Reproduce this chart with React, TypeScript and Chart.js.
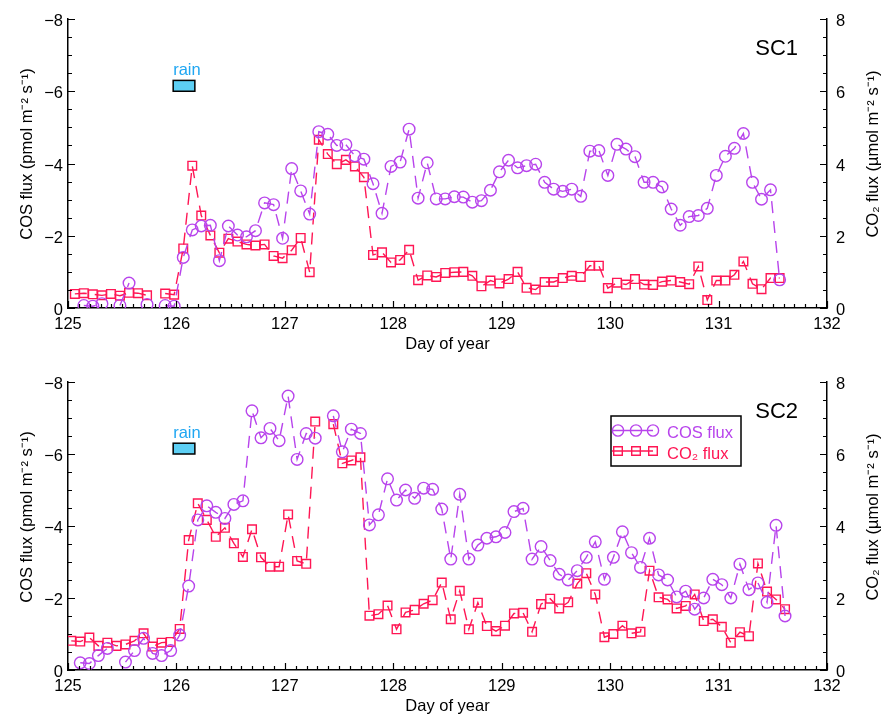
import React, { useEffect, useRef } from 'react';
import { Chart, registerables } from 'chart.js';

Chart.register(...registerables);

const FONT = '"Liberation Sans", Arial, Helvetica, sans-serif';
const COS_COLOR = '#B844EC';
const CO2_COLOR = '#FF1654';
const RAIN_FILL = '#5DCFF4';
const RAIN_TEXT = '#1FA6F2';

// ---------- data ----------
const TIME_SC1 = [
  125.063, 125.146, 125.229, 125.313, 125.396, 125.479, 125.563, 125.646, 125.729, 125.813, 125.896, 125.979,
  126.063, 126.146, 126.229, 126.313, 126.396, 126.479, 126.563, 126.646, 126.729, 126.813, 126.896, 126.979,
  127.063, 127.146, 127.229, 127.313, 127.396, 127.479, 127.563, 127.646, 127.729, 127.813, 127.896, 127.979,
  128.063, 128.146, 128.229, 128.313, 128.396, 128.479, 128.563, 128.646, 128.729, 128.813, 128.896, 128.979,
  129.063, 129.146, 129.229, 129.313, 129.396, 129.479, 129.563, 129.646, 129.729, 129.813, 129.896, 129.979,
  130.063, 130.146, 130.229, 130.313, 130.396, 130.479, 130.563, 130.646, 130.729, 130.813, 130.896, 130.979,
  131.063, 131.146, 131.229, 131.313, 131.396, 131.479, 131.563,
];
const CO2_SC1 = [
  0.39, 0.41, 0.38, 0.35, 0.39, 0.34, 0.42, 0.41, 0.35, null, 0.40, 0.37,
  1.65, 3.94, 2.56, 2.01, 1.53, 1.92, 1.84, 1.76, 1.73, 1.76, 1.44, 1.38,
  1.60, 1.94, 0.99, 4.66, 4.26, 3.98, 4.10, 3.92, 3.62, 1.47, 1.54, 1.26,
  1.33, 1.61, 0.77, 0.90, 0.86, 0.97, 0.99, 1.00, 0.89, 0.60, 0.76, 0.68,
  0.80, 1.00, 0.56, 0.51, 0.72, 0.72, 0.83, 0.89, 0.86, 1.17, 1.17, 0.55,
  0.70, 0.65, 0.80, 0.65, 0.64, 0.73, 0.76, 0.72, 0.66, 1.15, 0.22, 0.76,
  0.76, 0.92, 1.29, 0.67, 0.52, 0.83, 0.83,
];
const COS_SC1 = [
  null, -0.07, -0.05, -0.12, null, -0.07, -0.69, null, -0.10, null, -0.07, -0.05,
  -1.40, -2.16, -2.27, -2.29, -1.31, -2.27, -2.02, -1.97, -2.14, -2.91, -2.86, -1.93,
  -3.86, -3.24, -2.60, -4.88, -4.81, -4.50, -4.52, -4.21, -4.12, -3.44, -2.62, -3.92,
  -4.04, -4.95, -3.04, -4.02, -3.02, -3.02, -3.08, -3.07, -2.93, -2.97, -3.26, -3.77,
  -4.09, -3.88, -3.94, -3.98, -3.48, -3.29, -3.23, -3.29, -3.09, -4.34, -4.36, -3.67,
  -4.53, -4.40, -4.19, -3.48, -3.48, -3.35, -2.74, -2.29, -2.53, -2.56, -2.76, -3.67,
  -4.20, -4.42, -4.83, -3.48, -3.01, -3.27, -0.78,
];

const TIME_SC2 = [
  125.030, 125.113, 125.197, 125.280, 125.363, 125.447, 125.530, 125.613, 125.697, 125.780, 125.863, 125.947,
  126.030, 126.113, 126.197, 126.280, 126.363, 126.447, 126.530, 126.613, 126.697, 126.780, 126.863, 126.947,
  127.030, 127.113, 127.197, 127.280, 127.363, 127.447, 127.530, 127.613, 127.697, 127.780, 127.863, 127.947,
  128.030, 128.113, 128.197, 128.280, 128.363, 128.447, 128.530, 128.613, 128.697, 128.780, 128.863, 128.947,
  129.030, 129.113, 129.197, 129.280, 129.363, 129.447, 129.530, 129.613, 129.697, 129.780, 129.863, 129.947,
  130.030, 130.113, 130.197, 130.280, 130.363, 130.447, 130.530, 130.613, 130.697, 130.780, 130.863, 130.947,
  131.030, 131.113, 131.197, 131.280, 131.363, 131.447, 131.530, 131.613,
];
const CO2_SC2 = [
  0.81, 0.79, 0.90, 0.67, 0.76, 0.67, 0.71, 0.81, 1.02, 0.65, 0.76, 0.78,
  1.14, 3.61, 4.63, 4.17, 3.70, 3.95, 3.52, 3.14, 3.91, 3.13, 2.87, 2.87,
  4.32, 3.03, 2.95, 6.90, null, 6.83, 5.74, 5.82, 5.91, 1.51, 1.55, 1.79,
  1.13, 1.60, 1.67, 1.84, 1.94, 2.43, 1.41, 2.20, 1.13, 1.87, 1.22, 1.08,
  1.23, 1.57, 1.59, 1.06, 1.83, 1.98, 1.71, 1.88, 2.40, 2.69, 2.10, 0.91,
  1.00, 1.23, 1.02, 1.06, 2.76, 2.02, 1.96, 1.71, 1.78, 2.10, 1.36, 1.41,
  1.20, 0.76, 1.05, 0.94, 2.96, 2.18, 1.96, 1.69,
];
const COS_SC2 = [
  null, -0.20, -0.18, -0.40, -0.60, null, -0.22, -0.54, -0.88, -0.46, -0.40, -0.54,
  -0.97, -2.33, -4.17, -4.56, -4.38, -4.21, -4.60, -4.70, -7.20, -6.45, -6.71, -6.37,
  -7.61, -5.85, -6.57, -6.44, null, -7.06, -6.06, -6.69, -6.57, -4.03, -4.31, -5.31,
  -4.72, -5.00, -4.77, -5.05, -5.02, -4.47, -3.08, -4.88, -3.08, -3.47, -3.66, -3.70,
  -3.82, -4.40, -4.49, -3.08, -3.43, -3.04, -2.66, -2.50, -2.76, -3.13, -3.56, -2.52,
  -3.13, -3.84, -3.26, -2.85, -3.66, -2.64, -2.50, -2.03, -2.19, -1.69, -2.00, -2.52,
  -2.37, -2.00, -2.94, -2.23, -2.42, -1.88, -4.02, -1.50,
];

const X_MIN = 125;
const X_MAX = 132;
const COS_MIN = -8;
const COS_MAX = 0;
const CO2_MIN = 0;
const CO2_MAX = 8;
const RAIN_START = 125.97;
const RAIN_END = 126.17;
const RAIN_COS_TOP = -6.3;
const RAIN_COS_BOTTOM = -6.0;

const X_TITLE = 'Day of year';
const COS_TITLE = 'COS flux (pmol m⁻² s⁻¹)';
const CO2_TITLE = 'CO₂ flux (µmol m⁻² s⁻¹)';
const COS_LABEL = 'COS flux';
const CO2_LABEL = 'CO₂ flux';

// ---------- layout ----------
const W = 881;
const PLOT_LEFT = 68;
const PLOT_RIGHT = 827;
const X_AXIS_H = 49;

type PanelProps = {
  name: string;
  times: number[];
  cos: (number | null)[];
  co2: (number | null)[];
  canvasH: number;
  plotTop: number;
  legend: boolean;
};

function makeDecorPlugin(name: string, legend: boolean) {
  return {
    id: 'decor_' + name,
    afterDatasetsDraw(chart: any) {
      const { ctx, chartArea: a, scales } = chart;
      const x = scales.x;
      const y = scales.y;
      const y2 = scales.y2;
      ctx.save();
      // inward ticks
      ctx.strokeStyle = '#000';
      ctx.lineWidth = 1.2;
      ctx.beginPath();
      for (let i = 0; i <= (X_MAX - X_MIN) * 10; i++) {
        const v = X_MIN + i / 10;
        const px = Math.round(x.getPixelForValue(v)) + 0.5;
        const len = i % 10 === 0 ? 7 : 4;
        ctx.moveTo(px, a.bottom);
        ctx.lineTo(px, a.bottom - len);
      }
      for (let i = 0; i <= 16; i++) {
        const v = COS_MIN + i * 0.5;
        const py = Math.round(y.getPixelForValue(v)) + 0.5;
        const len = i % 4 === 0 ? 7 : 4;
        ctx.moveTo(a.left, py);
        ctx.lineTo(a.left + len, py);
      }
      for (let i = 0; i <= 16; i++) {
        const v = CO2_MIN + i * 0.5;
        const py = Math.round(y2.getPixelForValue(v)) + 0.5;
        const len = i % 4 === 0 ? 7 : 4;
        ctx.moveTo(a.right, py);
        ctx.lineTo(a.right - len, py);
      }
      ctx.stroke();

      // rain box
      const rx0 = x.getPixelForValue(RAIN_START);
      const rx1 = x.getPixelForValue(RAIN_END);
      const ry0 = y.getPixelForValue(RAIN_COS_TOP);
      const ry1 = y.getPixelForValue(RAIN_COS_BOTTOM);
      ctx.fillStyle = RAIN_FILL;
      ctx.fillRect(rx0, ry0, rx1 - rx0, ry1 - ry0);
      ctx.lineWidth = 1.5;
      ctx.strokeStyle = '#000';
      ctx.strokeRect(rx0, ry0, rx1 - rx0, ry1 - ry0);
      ctx.fillStyle = RAIN_TEXT;
      ctx.font = `16.5px ${FONT}`;
      ctx.textAlign = 'left';
      ctx.textBaseline = 'alphabetic';
      ctx.fillText('rain', rx0, ry0 - 5.5);

      // panel name
      ctx.fillStyle = '#000';
      ctx.font = `22px ${FONT}`;
      ctx.textAlign = 'right';
      ctx.fillText(name, a.right - 29, a.top + 36);

      // axis titles (both read bottom-to-top)
      const midY = a.top + 135;
      ctx.font = `16.5px ${FONT}`;
      ctx.textAlign = 'center';
      ctx.textBaseline = 'middle';
      ctx.save();
      ctx.translate(27, midY);
      ctx.rotate(-Math.PI / 2);
      ctx.fillText(COS_TITLE, 0, 0);
      ctx.restore();
      ctx.save();
      ctx.translate(873, midY);
      ctx.rotate(-Math.PI / 2);
      ctx.fillText(CO2_TITLE, 0, 0);
      ctx.restore();

      if (legend) {
        const lx = a.right - 216;
        const ly = a.top + 34;
        ctx.lineWidth = 1.5;
        ctx.strokeStyle = '#000';
        ctx.strokeRect(lx, ly, 130, 50);
        const rows = [
          { label: COS_LABEL, color: COS_COLOR, circle: true, cy: ly + 14.5 },
          { label: CO2_LABEL, color: CO2_COLOR, circle: false, cy: ly + 35 },
        ];
        for (const r of rows) {
          ctx.strokeStyle = r.color;
          ctx.lineWidth = 1.4;
          ctx.beginPath();
          ctx.moveTo(lx + 1, r.cy);
          ctx.lineTo(lx + 42, r.cy);
          ctx.stroke();
          for (const mx of [lx + 7, lx + 25, lx + 42]) {
            ctx.beginPath();
            if (r.circle) {
              ctx.arc(mx, r.cy, 5.6, 0, Math.PI * 2);
            } else {
              ctx.rect(mx - 4.3, r.cy - 4.3, 8.6, 8.6);
            }
            ctx.stroke();
          }
          ctx.fillStyle = r.color;
          ctx.font = `16.5px ${FONT}`;
          ctx.textAlign = 'left';
          ctx.textBaseline = 'alphabetic';
          ctx.fillText(r.label, lx + 56, r.cy + 7.5);
        }
      }
      ctx.restore();
    },
  };
}

function Panel({ name, times, cos, co2, canvasH, plotTop, legend }: PanelProps) {
  const ref = useRef<HTMLCanvasElement>(null);
  useEffect(() => {
    const canvas = ref.current;
    if (!canvas) return;
    const tickFont = { family: FONT, size: 16.5 };
    const noGrid = { display: false, drawTicks: false };
    const common = {
      borderWidth: 1.4,
      borderDash: [12, 8],
      backgroundColor: 'rgba(0,0,0,0)',
      pointBackgroundColor: 'rgba(0,0,0,0)',
      pointBorderWidth: 1.4,
      tension: 0,
      spanGaps: false,
      fill: false,
    };
    const chart = new Chart(canvas, {
      type: 'line',
      data: {
        datasets: [
          {
            ...common,
            label: COS_LABEL,
            data: times.map((t, i) => ({ x: t, y: cos[i] })),
            yAxisID: 'y',
            borderColor: COS_COLOR,
            pointBorderColor: COS_COLOR,
            pointStyle: 'circle',
            pointRadius: 5.8,
          },
          {
            ...common,
            label: CO2_LABEL,
            data: times.map((t, i) => ({ x: t, y: co2[i] })),
            yAxisID: 'y2',
            borderColor: CO2_COLOR,
            pointBorderColor: CO2_COLOR,
            pointStyle: 'rect',
            pointRadius: 6.1,
          },
        ] as any,
      },
      options: {
        responsive: false,
        animation: false,
        devicePixelRatio: 1,
        layout: { padding: { top: plotTop, left: 0, right: 0, bottom: 0 } },
        plugins: { legend: { display: false }, tooltip: { enabled: false } },
        scales: {
          x: {
            type: 'linear',
            position: 'bottom',
            min: X_MIN,
            max: X_MAX,
            ticks: { stepSize: 1, font: tickFont, color: '#000', padding: 7, maxRotation: 0, autoSkip: false },
            grid: noGrid,
            border: { display: true, color: '#000', width: 1.5 },
            title: { display: true, text: X_TITLE, font: tickFont, color: '#000', padding: { top: 0, bottom: 3 } },
            afterFit: (s: any) => {
              s.height = X_AXIS_H;
            },
          },
          y: {
            type: 'linear',
            position: 'left',
            min: COS_MIN,
            max: COS_MAX,
            reverse: true,
            ticks: {
              stepSize: 2,
              font: tickFont,
              color: '#000',
              padding: 5,
              labelOffset: 2.5,
              callback: (v: any) => (v === 0 ? '0' : '−' + Math.abs(v)),
            },
            grid: noGrid,
            border: { display: true, color: '#000', width: 1.5 },
            afterFit: (s: any) => {
              s.width = PLOT_LEFT;
            },
          },
          y2: {
            type: 'linear',
            position: 'right',
            min: CO2_MIN,
            max: CO2_MAX,
            ticks: { stepSize: 2, font: tickFont, color: '#000', padding: 9, labelOffset: 2.5 },
            grid: noGrid,
            border: { display: true, color: '#000', width: 1.5 },
            afterFit: (s: any) => {
              s.width = W - PLOT_RIGHT;
            },
          },
        },
      } as any,
      plugins: [makeDecorPlugin(name, legend)],
    });
    return () => chart.destroy();
  }, []);
  return <canvas ref={ref} width={W} height={canvasH} style={{ display: 'block', width: W, height: canvasH }} />;
}

export default function App() {
  return (
    <div style={{ position: 'fixed', left: 0, top: 0, width: 881, height: 715, overflow: 'hidden', background: '#fff' }}>
      <Panel name="SC1" times={TIME_SC1} cos={COS_SC1} co2={CO2_SC1} canvasH={357} plotTop={19} legend={false} />
      <Panel name="SC2" times={TIME_SC2} cos={COS_SC2} co2={CO2_SC2} canvasH={362} plotTop={25} legend={true} />
    </div>
  );
}
